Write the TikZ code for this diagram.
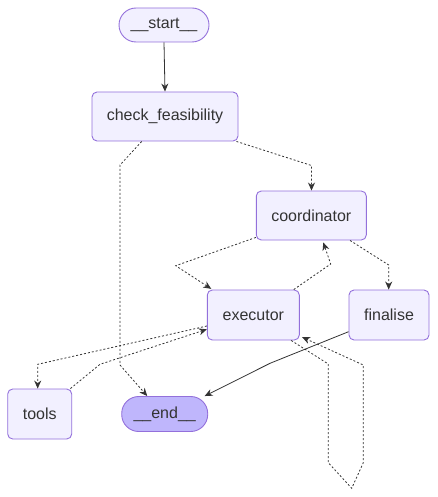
\documentclass[tikz,border=0pt]{standalone}
\usepackage{fontspec}
\setmainfont{Liberation Sans}
\usetikzlibrary{arrows.meta,calc}
\definecolor{nfill}{HTML}{F2F0FF}
\definecolor{nborder}{HTML}{9370DB}
\definecolor{endfill}{HTML}{BFB6FC}
\definecolor{txt}{HTML}{333333}
\definecolor{edge}{HTML}{333333}
\begin{document}
\begin{tikzpicture}[x=1pt,y=-1pt,
  box/.style={draw=nborder,fill=nfill,line width=0.9pt,rounded corners=5pt,inner sep=0pt,
    text=txt,font=\fontsize{16}{18}\selectfont},
  pill/.style={box,rounded corners=17pt},
  conn/.style={draw=edge,line width=0.8pt,-{Stealth[length=8pt,width=7pt]}},
  dconn/.style={conn,dash pattern=on 2pt off 2pt},
]
\useasboundingbox (0,0) rectangle (437,497);
\node[pill,minimum width=90pt,minimum height=34pt] (start) at (164,25) {\_\_start\_\_};
\node[box,minimum width=146pt,minimum height=49pt] (cf) at (165,116.5) {check\_feasibility};
\node[box,minimum width=110pt,minimum height=49pt] (coord) at (311.3,215.5) {coordinator};
\node[box,minimum width=92pt,minimum height=50pt] (exec) at (253.3,315) {executor};
\node[box,minimum width=80pt,minimum height=50pt] (fin) at (389,315) {finalise};
\node[box,minimum width=64pt,minimum height=50pt] (tools) at (39.7,414) {tools};
\node[pill,fill=endfill,minimum width=86pt,minimum height=35pt] (end) at (164.7,414) {\_\_end\_\_};

\coordinate (c1) at (311.5,165.5);
\coordinate (c2a) at (120,165);
\coordinate (c2b) at (120,365);
\coordinate (c3) at (175.7,265.7);
\coordinate (c4) at (330.7,264);
\coordinate (c5) at (388.7,265);
\coordinate (c6) at (37.7,364.3);
\coordinate (c7) at (100,364.3);
\coordinate (c8) at (270,363.3);
\coordinate (l1) at (328.3,364);
\coordinate (l2) at (328.3,462.7);
\coordinate (l3) at (351.7,488.3);
\coordinate (l4) at (363.3,462.7);
\coordinate (l5) at (363.3,365);

\draw[conn] (start.south) -- (cf.north);
\draw[dconn] ($(cf.south east)+(-2,0)$) -- (c1) -- (coord.north -| c1);
\draw[dconn] ($(cf.south)+(-23.3,0)$) -- (c2a) -- (c2b) -- ($(end.north west)+(26,0)$);
\draw[dconn] ($(coord.south west)+(0,-3)$) -- (c3) -- ($(exec.north west)+(4.4,-0.7)$);
\draw[dconn] ($(exec.north east)+(-6,0)$) -- (c4) -- ($(coord.south)+(12,2)$);
\draw[dconn] ($(coord.south east)+(-16.7,0)$) -- (c5) -- (fin.north -| c5);
\draw[dconn] ($(exec.west)+(0,11)$) -- (c6) -- (tools.north -| c6);
\draw[dconn] ($(tools.north east)+(-1.7,0)$) -- (c7) -- ($(exec.west)+(0,14.3)$);
\draw[conn] ($(fin.west)+(0,16.7)$) -- (c8) -- ($(end.north east)+(-3.5,0)$);
\draw[dconn] ($(exec.south east)+(-8.6,0)$) -- (l1) -- (l2) -- (l3) -- (l4) -- (l5) -- ($(exec.south east)+(2.4,-3.3)$);
\end{tikzpicture}
\end{document}
